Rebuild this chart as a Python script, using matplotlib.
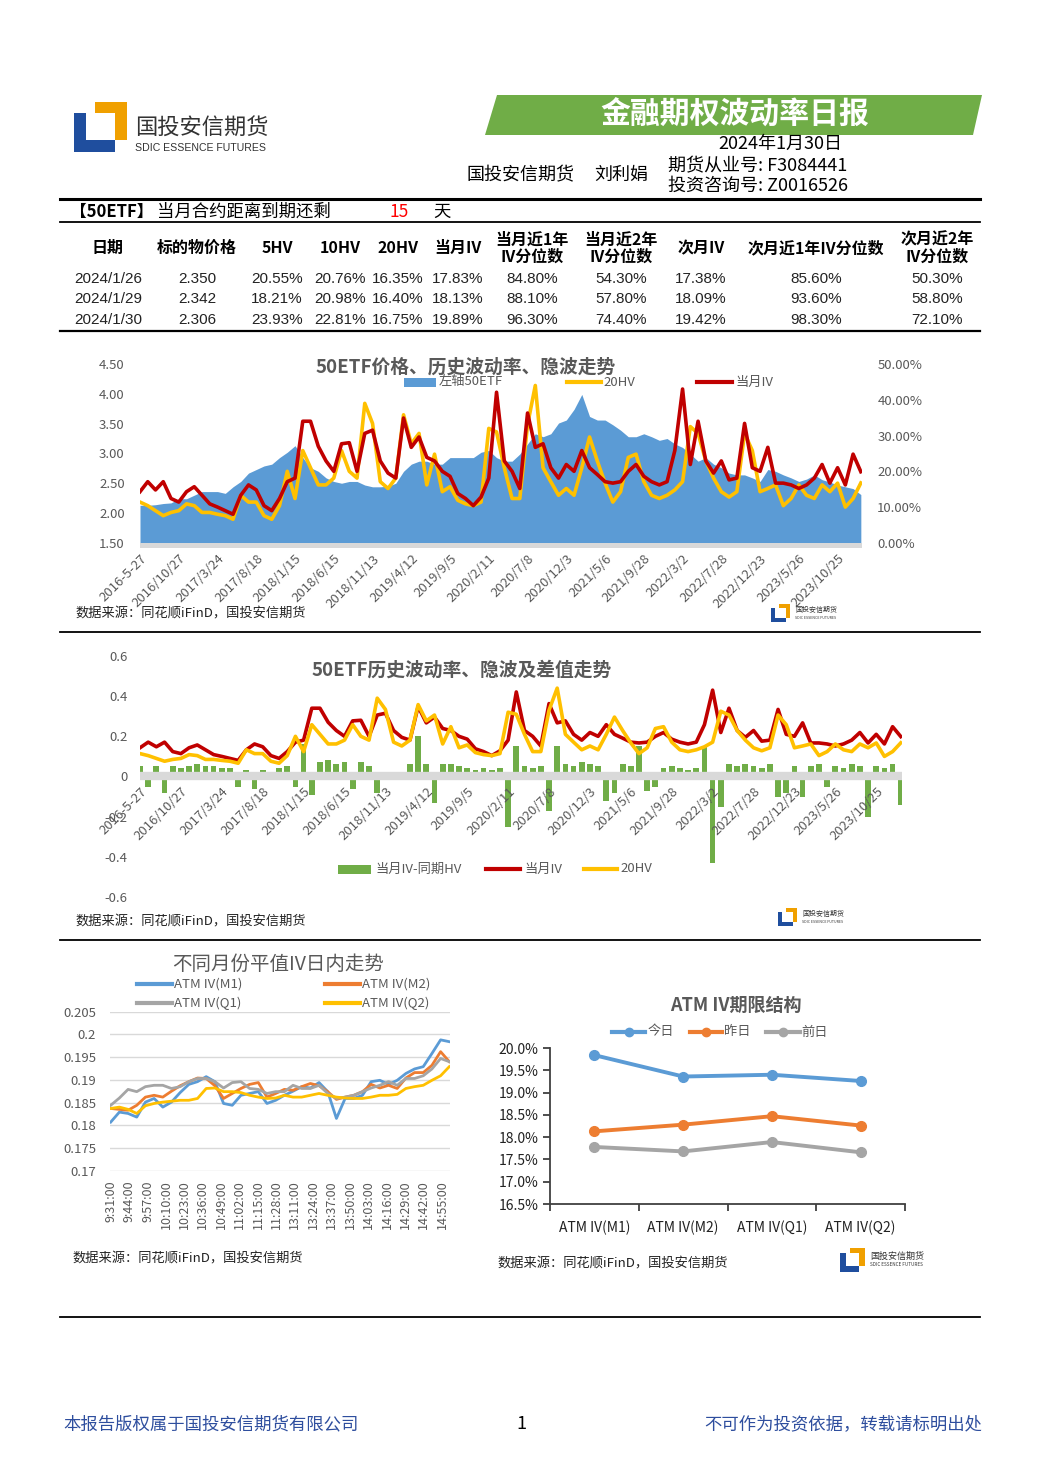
import numpy as np
import matplotlib
matplotlib.use("Agg")
import matplotlib.pyplot as plt
from matplotlib.lines import Line2D
from matplotlib.patches import Rectangle, Polygon

plt.rcParams['font.family'] = ['Noto Sans CJK SC', 'DejaVu Sans']

# ---------------- data ----------------
table_dates = ['2024/1/26', '2024/1/29', '2024/1/30']
table_price = [2.350, 2.342, 2.306]
table_hv5 = [20.55, 18.21, 23.93]
table_hv10 = [20.76, 20.98, 22.81]
table_hv20 = [16.35, 16.40, 16.75]
table_iv_m1 = [17.83, 18.13, 19.89]
table_pct1y_m1 = [84.80, 88.10, 96.30]
table_pct2y_m1 = [54.30, 57.80, 74.40]
table_iv_m2 = [17.38, 18.09, 19.42]
table_pct1y_m2 = [85.60, 93.60, 98.30]
table_pct2y_m2 = [50.30, 58.80, 72.10]
days_to_expiry = 15

# long history, sampled every 20 trading days from 2016-5-27
date_labels = ['2016-5-27', '2016/10/27', '2017/3/24', '2017/8/18', '2018/1/15', '2018/6/15',
               '2018/11/13', '2019/4/12', '2019/9/5', '2020/2/11', '2020/7/8', '2020/12/3',
               '2021/5/6', '2021/9/28', '2022/3/2', '2022/7/28', '2022/12/23', '2023/5/26',
               '2023/10/25']
etf_price = [2.13, 2.13, 2.14, 2.16, 2.17, 2.24, 2.24, 2.30, 2.36, 2.36, 2.36, 2.33, 2.44, 2.53,
             2.67, 2.73, 2.79, 2.82, 2.93, 3.02, 3.13, 2.93, 2.76, 2.70, 2.59, 2.53, 2.50, 2.53,
             2.53, 2.47, 2.44, 2.44,
             2.45, 2.50, 2.70, 2.82, 2.87, 2.87, 2.82, 2.82, 2.93, 2.93, 2.93, 2.93, 3.02, 3.05,
             2.93, 2.87, 2.87, 2.99, 3.16, 3.33, 3.28, 3.33, 3.51, 3.56, 3.74, 3.99, 3.62, 3.56,
             3.56, 3.48, 3.39,
             3.28, 3.28, 3.33, 3.28, 3.22, 3.25, 3.16, 3.10, 2.99, 2.87, 2.93, 2.82, 2.76, 2.67,
             2.64, 2.64, 2.59, 2.53, 2.73, 2.70, 2.64, 2.59, 2.53, 2.57, 2.64, 2.56, 2.52, 2.47,
             2.44, 2.41, 2.31]
hv20 = [11.4, 10.4, 9.0, 7.6, 8.5, 9.0, 10.9, 10.4, 8.5, 8.5, 8.0, 7.6, 6.6, 13.3, 11.4, 11.4,
        7.6, 6.6, 10.4, 20.0, 12.4, 25.8, 21.0, 16.2, 16.2, 18.1, 25.8, 20.0, 18.1, 39.0, 33.4,
        17.1,
        15.2, 18.1, 35.8, 27.7, 30.6, 16.2, 24.8, 14.3, 15.7, 11.9, 10.9, 10.4, 11.4, 32.0, 31.0,
        21.0, 12.4, 12.4, 33.0, 44.0, 21.0, 17.1, 13.3, 15.2, 13.3, 21.0, 29.6, 22.9, 16.7, 11.4,
        14.3,
        23.9, 24.8, 17.1, 13.3, 12.4, 13.3, 14.8, 17.1, 32.5, 30.6, 22.9, 18.1, 14.3, 12.8, 14.3,
        30.6, 25.8, 14.3, 15.2, 16.2, 10.4, 12.4, 16.2, 13.3, 12.4, 16.2, 14.3, 16.7, 10.0, 12.4,
        16.75]
iv_m1 = [14.3, 17.1, 14.8, 17.1, 12.4, 11.4, 14.3, 15.7, 13.3, 10.9, 10.0, 9.0, 8.0, 13.3, 16.2,
         14.8, 10.4, 9.0, 12.4, 17.1, 18.1, 34.0, 34.0, 27.0, 22.9, 20.0, 27.7, 28.0, 20.0, 30.6,
         31.5, 22.9,
         19.5, 18.1, 34.9, 26.7, 29.6, 23.9, 22.9, 20.0, 18.6, 13.8, 12.4, 10.4, 12.8, 18.1, 42.1,
         22.9, 20.0, 15.2, 36.3, 26.7, 27.7, 21.0, 18.1, 21.9, 20.0, 25.8, 21.0, 19.1, 17.1, 16.7,
         17.1,
         20.0, 21.9, 18.6, 17.1, 16.2, 17.1, 25.8, 43.0, 21.9, 34.0, 22.9, 19.5, 22.9, 17.6, 18.1,
         33.4, 21.0, 20.0, 26.7, 16.7, 16.7, 16.2, 15.2, 16.2, 18.1, 21.9, 16.7, 21.0, 16.2, 24.8,
         19.89]
iv_minus_hv = [0.05, -0.05, 0.05, -0.08, 0.05, 0.04, 0.05, 0.06, 0.05, 0.05, 0.04, 0.04, -0.05,
               0.03, -0.06, 0.03, 0.02, 0.04, 0.05, -0.05, 0.16, -0.09, 0.07, 0.08, 0.06, 0.07,
               -0.06, 0.07, 0.05, -0.08, 0.01, 0.01, 0.02, 0.06, 0.20, 0.06, -0.13, 0.06, 0.06,
               0.05, 0.04, 0.03, 0.04, 0.03, 0.04, -0.25, 0.15,
               0.05, 0.04, 0.05, -0.17, 0.15, 0.06, 0.05, 0.07, 0.06, 0.05, -0.12, -0.08, 0.06,
               0.05, 0.15, -0.07, -0.05, 0.04, 0.05, 0.04, 0.03, 0.04, 0.15, -0.43, -0.15, 0.06,
               0.05, 0.06, 0.05, 0.04, 0.06, -0.10, -0.08, 0.05, -0.10, 0.05, 0.06, -0.05, 0.05,
               0.04, 0.06, 0.05, -0.20, 0.05, 0.04, 0.06, -0.14]

# intraday ATM IV (40 readings across the 240 trading minutes)
time_labels = ['9:31:00', '9:44:00', '9:57:00', '10:10:00', '10:23:00', '10:36:00', '10:49:00',
               '11:02:00', '11:15:00', '11:28:00', '13:11:00', '13:24:00', '13:37:00', '13:50:00',
               '14:03:00', '14:16:00', '14:29:00', '14:42:00', '14:55:00']
atm_m1 = [0.1807, 0.1829, 0.1826, 0.1818, 0.1851, 0.1859, 0.1840, 0.1851, 0.1872, 0.1890,
          0.1896, 0.1907, 0.1896, 0.1848, 0.1844, 0.1866, 0.1870, 0.1874, 0.1848, 0.1855,
          0.1866, 0.1875, 0.1885, 0.1882, 0.1894, 0.1874, 0.1815, 0.1859, 0.1859, 0.1866,
          0.1896, 0.1899, 0.1890, 0.1899, 0.1914, 0.1924, 0.1929, 0.1958, 0.1988, 0.1984]
atm_m2 = [0.1837, 0.1835, 0.1833, 0.1844, 0.1862, 0.1866, 0.1862, 0.1875, 0.1887, 0.1896,
          0.1904, 0.1903, 0.1887, 0.1859, 0.1870, 0.1881, 0.1890, 0.1894, 0.1862, 0.1870,
          0.1879, 0.1877, 0.1885, 0.1892, 0.1887, 0.1874, 0.1857, 0.1862, 0.1866, 0.1874,
          0.1890, 0.1882, 0.1888, 0.1881, 0.1904, 0.1916, 0.1916, 0.1932, 0.1962, 0.1940]
atm_q1 = [0.1844, 0.1860, 0.1879, 0.1874, 0.1885, 0.1888, 0.1888, 0.1881, 0.1885, 0.1896,
          0.1903, 0.1903, 0.1896, 0.1882, 0.1894, 0.1896, 0.1881, 0.1879, 0.1870, 0.1874,
          0.1874, 0.1888, 0.1881, 0.1881, 0.1888, 0.1870, 0.1859, 0.1862, 0.1866, 0.1874,
          0.1882, 0.1888, 0.1896, 0.1888, 0.1903, 0.1903, 0.1909, 0.1924, 0.1947, 0.1940]
atm_q2 = [0.1837, 0.1840, 0.1835, 0.1826, 0.1843, 0.1848, 0.1851, 0.1853, 0.1855, 0.1855,
          0.1859, 0.1881, 0.1882, 0.1874, 0.1874, 0.1872, 0.1866, 0.1862, 0.1859, 0.1860,
          0.1866, 0.1862, 0.1862, 0.1866, 0.1870, 0.1866, 0.1862, 0.1860, 0.1859, 0.1859,
          0.1862, 0.1866, 0.1866, 0.1868, 0.1881, 0.1885, 0.1888, 0.1899, 0.1909, 0.1929]

# term structure
term_cats = ['ATM IV(M1)', 'ATM IV(M2)', 'ATM IV(Q1)', 'ATM IV(Q2)']
term_today = [19.84, 19.36, 19.40, 19.26]
term_yesterday = [18.13, 18.28, 18.47, 18.26]
term_before = [17.78, 17.68, 17.89, 17.66]

# ---------------- figure helpers ----------------
W, H = 1044, 1477
fig = plt.figure(figsize=(W / 100, H / 100), dpi=100)
fig.patch.set_facecolor('white')

def fx(x):
    return x / W

def fy(y):
    return 1 - y / H

def T(x, y, s, **kw):
    kw.setdefault('va', 'center')
    return fig.text(fx(x), fy(y), s, **kw)

def add_ax(x0, y0, x1, y1):
    return fig.add_axes([fx(x0), fy(y1), (x1 - x0) / W, (y1 - y0) / H])

def hline(x0, x1, y, lw, color='black'):
    fig.add_artist(Line2D([fx(x0), fx(x1)], [fy(y), fy(y)], color=color, lw=lw,
                          transform=fig.transFigure))

def rect(x, y, w, h, color):
    fig.add_artist(Rectangle((fx(x), fy(y + h)), w / W, h / H, color=color, lw=0,
                             transform=fig.transFigure))

def logo(x, y, s):
    k = s / 53.0
    rect(x + 21 * k, y, 32 * k, 38 * k, '#f0a000')
    rect(x, y + 11 * k, 41 * k, 39 * k, '#1f4e9e')
    rect(x + 12 * k, y + 11 * k, 29 * k, 27 * k, 'white')

def leg_line(x0, x1, y, color, lw=3, marker=None):
    fig.add_artist(Line2D([fx(x0), fx(x1)], [fy(y), fy(y)], color=color, lw=lw,
                          transform=fig.transFigure))
    if marker:
        fig.add_artist(Line2D([fx((x0 + x1) / 2)], [fy(y)], color=color, marker=marker,
                              ms=6, transform=fig.transFigure))

GREY = '#595959'
C_BLUE, C_RED, C_YEL, C_GRN = '#5b9bd5', '#c00000', '#ffc000', '#70ad47'
C_ORG, C_GRY = '#ed7d31', '#a5a5a5'
LAT = ['Liberation Sans', 'DejaVu Sans']

# ---------------- header ----------------
logo(74, 102, 53)
T(135, 128, '国投安信期货', fontsize=16, color='#333333')
T(135, 148, 'SDIC ESSENCE FUTURES', fontsize=7.6, color='#333333', family=LAT)
fig.add_artist(Polygon([[fx(497), fy(95)], [fx(982), fy(95)], [fx(973), fy(135)], [fx(485), fy(135)]],
                       closed=True, color='#70ad47', lw=0, transform=fig.transFigure))
T(735, 115, '金融期权波动率日报', fontsize=21.5, color='white', fontweight='bold', ha='center')
T(780, 144, '2024年1月30日', fontsize=13, color='black', ha='center')
T(467, 175, '国投安信期货', fontsize=13, color='black')
T(594, 175, '刘利娟', fontsize=13, color='black')
T(668, 166, '期货从业号: F3084441', fontsize=13, color='black')
T(668, 186, '投资咨询号: Z0016526', fontsize=13, color='black')

hline(60, 980, 199, 2.2)
T(70, 212, '【50ETF】', fontsize=12, color='black', fontweight='bold')
T(157, 212, '当月合约距离到期还剩', fontsize=12.5, color='black')
T(399, 212, str(days_to_expiry), fontsize=12.5, color='red', ha='center')
T(433, 212, '天', fontsize=12.5, color='black')
hline(60, 980, 222, 1.3)

# ---------------- table ----------------
col_x = [108, 197, 277, 340, 398, 458, 532, 621, 701, 816, 937]
headers = ['日期', '标的物价格', '5HV', '10HV', '20HV', '当月IV', '当月近1年\nIV分位数',
           '当月近2年\nIV分位数', '次月IV', '次月近1年IV分位数', '次月近2年\nIV分位数']
for x, h in zip(col_x, headers):
    T(x, 248, h, fontsize=11.5, color='black', fontweight='bold', ha='center', linespacing=1.05)
row_y = [279, 299, 320]
for i in range(3):
    vals = [table_dates[i], '%.3f' % table_price[i], '%.2f%%' % table_hv5[i],
            '%.2f%%' % table_hv10[i], '%.2f%%' % table_hv20[i], '%.2f%%' % table_iv_m1[i],
            '%.2f%%' % table_pct1y_m1[i], '%.2f%%' % table_pct2y_m1[i], '%.2f%%' % table_iv_m2[i],
            '%.2f%%' % table_pct1y_m2[i], '%.2f%%' % table_pct2y_m2[i]]
    for x, v in zip(col_x, vals):
        T(x, row_y[i], v, fontsize=11, color='#222222', ha='center', family=LAT)
hline(60, 980, 331, 1.6)

# ---------------- chart 1 ----------------
d = np.arange(len(etf_price)) * 20
tick_pos = np.arange(len(date_labels)) * 100
ylo = 1.5 - 10 / 116.0
ax1 = add_ax(140, 364, 862, 548)
ax1.fill_between(d, 1.5, etf_price, color=C_BLUE, lw=0, zorder=1)
ax1.axhspan(ylo, 1.5, color='#d9d9d9', lw=0, zorder=1)
ax1.set_xlim(0, 1863)
ax1.set_ylim(ylo, 4.5)
ax1.set_yticks([1.5, 2.0, 2.5, 3.0, 3.5, 4.0, 4.5])
ax1.set_yticklabels(['%.2f' % v for v in [1.5, 2.0, 2.5, 3.0, 3.5, 4.0, 4.5]])
ax1.set_xticks(tick_pos)
ax1.set_xticklabels(date_labels, rotation=45, ha='right', va='top', rotation_mode='anchor')
ax1.tick_params(axis='y', length=0, pad=11, labelsize=9.5, labelcolor=GREY)
ax1.tick_params(axis='x', length=0, pad=3, labelsize=9.5, labelcolor=GREY)
for s in ax1.spines.values():
    s.set_visible(False)
ax1r = ax1.twinx()
ax1r.plot(d, hv20, color=C_YEL, lw=2.6, zorder=2)
ax1r.plot(d, iv_m1, color=C_RED, lw=2.6, zorder=3)
ax1r.set_ylim((ylo - 1.5) / 3 * 50, 50)
ax1r.set_yticks([0, 10, 20, 30, 40, 50])
ax1r.set_yticklabels(['%.2f%%' % v for v in [0, 10, 20, 30, 40, 50]])
ax1r.tick_params(axis='y', length=0, pad=11, labelsize=9.5, labelcolor=GREY)
for s in ax1r.spines.values():
    s.set_visible(False)
T(466, 367, '50ETF价格、历史波动率、隐波走势', fontsize=13.5, color=GREY, fontweight='bold', ha='center')
rect(404, 378, 32, 9, C_BLUE)
T(439, 382, '左轴50ETF', fontsize=9.5, color=GREY)
leg_line(567, 601, 382, C_YEL, lw=3)
T(603, 382, '20HV', fontsize=9.5, color=GREY)
leg_line(697, 732, 382, C_RED, lw=3)
T(735, 382, '当月IV', fontsize=9.5, color=GREY)
T(75, 614, '数据来源：同花顺iFinD，国投安信期货', fontsize=9.5, color='#222222')
logo(771, 604, 19)
T(795, 610, '国投安信期货', fontsize=5, color='#333333')
T(795, 618, 'SDIC ESSENCE FUTURES', fontsize=2.6, color='#333333')
hline(60, 980, 632, 1.3)

# ---------------- chart 2 ----------------
ax2 = add_ax(140, 656, 902, 897)
ax2.bar(d, iv_minus_hv, width=14, color=C_GRN, lw=0, zorder=1)
ax2.axhline(0, color='#d9d9d9', lw=6, zorder=2)
ax2.plot(d, np.array(iv_m1) / 100, color=C_RED, lw=2.6, zorder=3)
ax2.plot(d, np.array(hv20) / 100, color=C_YEL, lw=2.6, zorder=4)
ax2.set_xlim(0, 1863)
ax2.set_ylim(-0.6, 0.6)
ax2.set_yticks([-0.6, -0.4, -0.2, 0, 0.2, 0.4, 0.6])
ax2.set_yticklabels(['-0.6', '-0.4', '-0.2', '0', '0.2', '0.4', '0.6'])
ax2.spines['bottom'].set_position(('data', 0))
for s in ax2.spines.values():
    s.set_visible(False)
ax2.set_xticks(tick_pos)
ax2.set_xticklabels(date_labels, rotation=45, ha='right', va='top', rotation_mode='anchor')
ax2.tick_params(axis='y', length=0, pad=9, labelsize=9.5, labelcolor=GREY)
ax2.tick_params(axis='x', length=0, pad=6, labelsize=9.5, labelcolor=GREY)
T(462, 670, '50ETF历史波动率、隐波及差值走势', fontsize=13.5, color=GREY, fontweight='bold', ha='center')
rect(338, 865, 33, 9, C_GRN)
T(375, 869, '当月IV-同期HV', fontsize=9.5, color=GREY)
leg_line(486, 520, 869, C_RED, lw=3)
T(524, 869, '当月IV', fontsize=9.5, color=GREY)
leg_line(584, 617, 869, C_YEL, lw=3)
T(620, 869, '20HV', fontsize=9.5, color=GREY)
T(75, 922, '数据来源：同花顺iFinD，国投安信期货', fontsize=9.5, color='#222222')
logo(778, 908, 19)
T(802, 914, '国投安信期货', fontsize=5, color='#333333')
T(802, 922, 'SDIC ESSENCE FUTURES', fontsize=2.6, color='#333333')
hline(60, 980, 940, 1.3)

# ---------------- chart 3: intraday ----------------
idx = np.linspace(0, 239, len(atm_m1))
ax3 = add_ax(110, 1011.7, 450, 1170.7)
ax3.plot(idx, atm_m1, color=C_BLUE, lw=2)
ax3.plot(idx, atm_m2, color=C_ORG, lw=2)
ax3.plot(idx, atm_q1, color=C_GRY, lw=2)
ax3.plot(idx, atm_q2, color=C_YEL, lw=2)
ax3.set_xlim(-0.5, 239.5)
ax3.set_ylim(0.17, 0.205)
yt = [0.17, 0.175, 0.18, 0.185, 0.19, 0.195, 0.2, 0.205]
ax3.set_yticks(yt)
ax3.set_yticklabels(['0.17', '0.175', '0.18', '0.185', '0.19', '0.195', '0.2', '0.205'])
ax3.set_xticks(np.arange(len(time_labels)) * 13)
ax3.set_xticklabels(time_labels, rotation=90, ha='center', va='top')
ax3.grid(axis='y', color='#d9d9d9', lw=1)
ax3.set_axisbelow(True)
for s in ax3.spines.values():
    s.set_visible(False)
ax3.tick_params(axis='y', length=0, pad=10, labelsize=9.5, labelcolor=GREY)
ax3.tick_params(axis='x', length=0, pad=7, labelsize=9, labelcolor=GREY)
T(278, 964, '不同月份平值IV日内走势', fontsize=14, color=GREY, ha='center')
leg_line(137, 172, 984, C_BLUE, lw=3)
T(174, 984, 'ATM IV(M1)', fontsize=9.5, color=GREY)
leg_line(325, 360, 984, C_ORG, lw=3)
T(362, 984, 'ATM IV(M2)', fontsize=9.5, color=GREY)
leg_line(137, 172, 1003, C_GRY, lw=3)
T(174, 1003, 'ATM IV(Q1)', fontsize=9.5, color=GREY)
leg_line(325, 360, 1003, C_YEL, lw=3)
T(362, 1003, 'ATM IV(Q2)', fontsize=9.5, color=GREY)
T(72, 1259, '数据来源：同花顺iFinD，国投安信期货', fontsize=9.5, color='#222222')

# ---------------- chart 4: term structure ----------------
ax4 = add_ax(550, 1048, 905, 1204)
xc = np.arange(len(term_cats))
ax4.plot(xc, term_today, color=C_BLUE, lw=2.8, marker='o', ms=7)
ax4.plot(xc, term_yesterday, color=C_ORG, lw=2.8, marker='o', ms=7)
ax4.plot(xc, term_before, color=C_GRY, lw=2.8, marker='o', ms=7)
ax4.set_xlim(-0.5, 3.5)
ax4.set_ylim(16.5, 20.0)
yt4 = [16.5, 17.0, 17.5, 18.0, 18.5, 19.0, 19.5, 20.0]
ax4.set_yticks(yt4)
ax4.set_yticklabels(['%.1f%%' % v for v in yt4])
ax4.set_xticks(xc)
ax4.set_xticklabels(term_cats)
ax4.set_xticks(np.arange(-0.5, 3.6, 1.0), minor=True)
for k in ['top', 'right']:
    ax4.spines[k].set_visible(False)
for k in ['left', 'bottom']:
    ax4.spines[k].set_color('#404040')
    ax4.spines[k].set_linewidth(1.3)
ax4.tick_params(axis='y', length=5, width=1.3, color='#404040', labelsize=10, labelcolor='#222222')
ax4.tick_params(axis='x', which='major', length=0, pad=12, labelsize=10, labelcolor='#222222')
ax4.tick_params(axis='x', which='minor', length=5, width=1.3, color='#404040')
T(736, 1005, 'ATM IV期限结构', fontsize=13, color=GREY, fontweight='bold', ha='center')
leg_line(612, 645, 1032, C_BLUE, lw=3, marker='o')
T(648, 1032, '今日', fontsize=9.5, color=GREY)
leg_line(690, 722, 1032, C_ORG, lw=3, marker='o')
T(724, 1032, '昨日', fontsize=9.5, color=GREY)
leg_line(766, 800, 1032, C_GRY, lw=3, marker='o')
T(801, 1032, '前日', fontsize=9.5, color=GREY)
T(497, 1264, '数据来源：同花顺iFinD，国投安信期货', fontsize=9.5, color='#222222')
logo(840, 1248, 25)
T(870, 1256, '国投安信期货', fontsize=6.5, color='#333333')
T(870, 1265, 'SDIC ESSENCE FUTURES', fontsize=3.3, color='#333333')

# ---------------- footer ----------------
hline(60, 980, 1317, 1.3)
T(63, 1424, '本报告版权属于国投安信期货有限公司', fontsize=12.5, color='#2e4e9e')
T(521, 1424, '1', fontsize=13, color='black', ha='center')
T(982, 1424, '不可作为投资依据，转载请标明出处', fontsize=12.5, color='#2e4e9e', ha='right')

fig.savefig('out.png', dpi=100, facecolor='white')
